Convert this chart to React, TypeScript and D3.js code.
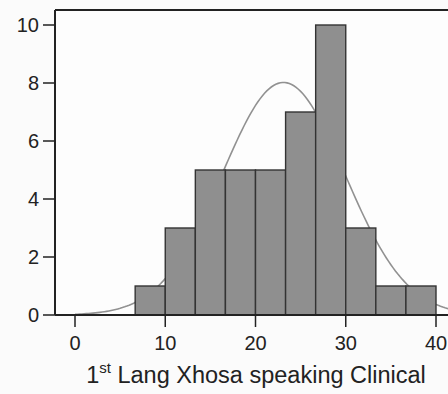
import React from "react";
import * as d3 from "d3";

const binStarts = [20 / 3, 10, 40 / 3, 50 / 3, 20, 70 / 3, 80 / 3, 30, 100 / 3, 110 / 3];
const binWidth = 10 / 3;
const counts = [1, 3, 5, 5, 5, 7, 10, 3, 1, 1];
const xTicks = [0, 10, 20, 30, 40];
const yTicks = [0, 2, 4, 6, 8, 10];
const fitMean = 23.1;
const fitSd = 6.8;
const xLabelMain = "1";
const xLabelSup = "st";
const xLabelRest = " Lang Xhosa speaking Clinical";

export default function App() {
  const W = 448, H = 394;
  const x = d3.scaleLinear().domain([0, 40]).range([75, 436]);
  const y = d3.scaleLinear().domain([0, 10]).range([315, 25]);
  const left = 55, top = 10, bottom = 315, right = 470;
  const total = d3.sum(counts);
  const curvePts = d3.range(0, 45.01, 0.25).map((v) => {
    const z = (v - fitMean) / fitSd;
    return [v, (total * binWidth) / (fitSd * Math.sqrt(2 * Math.PI)) * Math.exp(-0.5 * z * z)];
  });
  const line = d3.line<number[]>().x((d) => x(d[0])).y((d) => y(d[1])).curve(d3.curveLinear);
  const font = "'Liberation Sans', Arial, sans-serif";
  return (
    <svg width={W} height={H} style={{ position: "absolute", left: 0, top: 0, background: "#fbfbfb" }} fontFamily={font}>
      <defs>
        <clipPath id="plot">
          <rect x={left} y={top} width={right - left} height={bottom - top} />
        </clipPath>
      </defs>
      <rect x={left} y={top} width={right - left} height={bottom - top} fill="#fdfdfd" />
      <g clipPath="url(#plot)">
        <path d={line(curvePts) || ""} fill="none" stroke="#919191" strokeWidth={1.6} />
        {counts.map((c, i) => (
          <rect
            key={i}
            x={x(binStarts[i])}
            y={y(c)}
            width={x(binStarts[i] + binWidth) - x(binStarts[i])}
            height={y(0) - y(c)}
            fill="#8f8f8f"
            stroke="#333"
            strokeWidth={1.4}
          />
        ))}
      </g>
      <line x1={left} x2={right} y1={top} y2={top} stroke="#222" strokeWidth={2} />
      <line x1={left} x2={left} y1={top} y2={bottom} stroke="#222" strokeWidth={2} />
      <line x1={left} x2={right} y1={bottom} y2={bottom} stroke="#222" strokeWidth={2} />
      {yTicks.map((t) => (
        <g key={t}>
          <line x1={left - 12} x2={left} y1={y(t)} y2={y(t)} stroke="#222" strokeWidth={1.5} />
          <text x={left - 16} y={y(t)} dy="0.36em" textAnchor="end" fontSize={20} fill="#222">
            {t}
          </text>
        </g>
      ))}
      {xTicks.map((t) => (
        <g key={t}>
          <line x1={x(t)} x2={x(t)} y1={bottom} y2={bottom + 12} stroke="#222" strokeWidth={1.5} />
          <text x={x(t)} y={350} textAnchor="middle" fontSize={20} fill="#222">
            {t}
          </text>
        </g>
      ))}
      <text x={256} y={383} textAnchor="middle" fontSize={23.5} fill="#222">
        {xLabelMain}
        <tspan fontSize={15} dy={-10}>{xLabelSup}</tspan>
        <tspan dy={10}>{xLabelRest}</tspan>
      </text>
    </svg>
  );
}
